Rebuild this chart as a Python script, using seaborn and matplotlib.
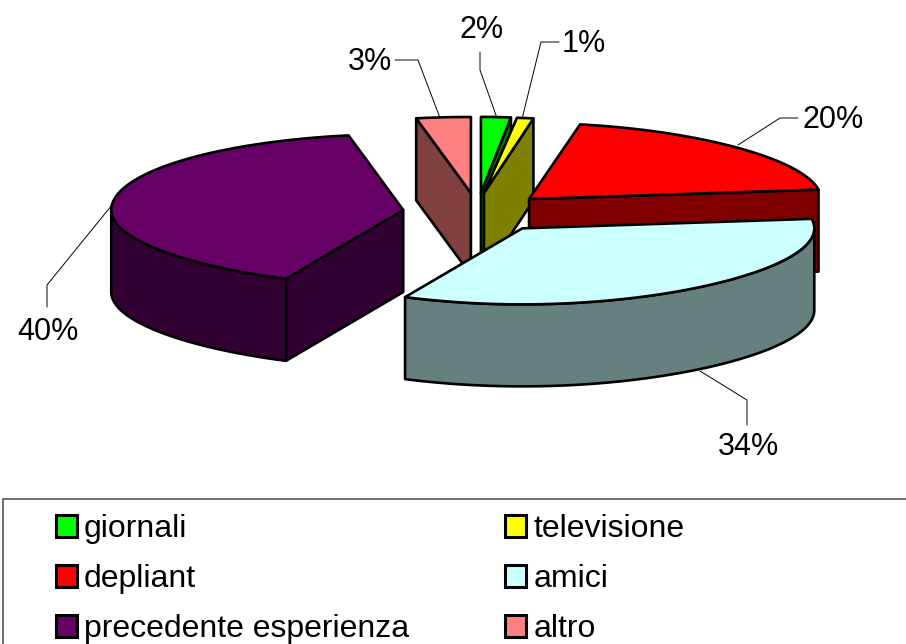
import numpy as np
from matplotlib import pyplot as plt
from matplotlib.patches import Patch, Rectangle
import seaborn as sns

categories = ["giornali", "televisione", "depliant", "amici", "precedente esperienza", "altro"]
values = [2, 1, 20, 34, 40, 3]
top_colors = ["#00FF00", "#FFFF00", "#FF0000", "#CCFFFF", "#660066", "#FF8080"]
side_colors = ["#008000", "#808000", "#800000", "#668080", "#330033", "#804040"]

# pie geometry, in pixels of the output picture
cx, cy = 478, 212.5
rx, ry = 292, 76
depth = 82
explode_x = [0.16, 0.13, 0.24, 0.258, 0.258, 0.258]
explode_y = [0.258, 0.258, 0.258, 0.258, 0.258, 0.258]
squeeze = [0.88, 0.97, 1, 1, 1, 1]
warp = 0.07

# label position and the leader line that goes with it
label_pos = [(482, 30), (584, 44), (833, 120), (748, 447), (48, 332), (370, 62)]
leaders = [
    [(480, 52), (480, 70), (497, 118)],
    [(559, 42), (541, 42), (522, 119)],
    [(798, 118), (780, 118), (738, 145)],
    [(747, 425), (747, 400), (700, 371)],
    [(47, 307), (47, 285), (112, 205)],
    [(395, 60), (418, 60), (440, 118)],
]


def draw_slice(ax, start, end, idx):
    mid = np.radians((start + end) / 2)
    ox = cx + explode_x[idx] * rx * np.sin(mid)
    oy = cy - explode_y[idx] * ry * np.cos(mid)
    sx = rx * squeeze[idx]

    def point(deg):
        deg = np.asarray(deg, dtype=float)
        a = np.radians(deg)
        # the chart's perspective pulls the right and front edges in a little
        f = 1 - np.where(deg > 270, 0, warp) * np.cos(a) ** 2
        return ox + sx * f * np.sin(a), oy - ry * np.cos(a)

    def quad(a):
        x, y = point(a)
        ax.fill([ox, x, x, ox], [oy, y, y + depth, oy + depth],
                fc=side_colors[idx], ec="black", lw=1.9, joinstyle="round")

    # Only faces turned to the viewer are visible
    if np.sin(np.radians(start)) < -1e-6:
        quad(start)
    if np.sin(np.radians(end)) > 1e-6:
        quad(end)

    # Outer wall, front half of the ellipse only
    lo, hi = max(start, 90), min(end, 270)
    if lo < hi:
        x, y = point(np.linspace(lo, hi, 80))
        ax.fill(np.r_[x, x[::-1]], np.r_[y, y[::-1] + depth],
                fc=side_colors[idx], ec="black", lw=1.9, joinstyle="round")

    x, y = point(np.linspace(start, end, 120))
    ax.fill(np.r_[ox, x], np.r_[oy, y], fc=top_colors[idx], ec="black", lw=1.9, joinstyle="round")


sns.set_theme(style="white")
plt.rcParams["font.family"] = ["Liberation Sans", "DejaVu Sans"]

fig = plt.figure(figsize=(9.06, 6.44), dpi=100)
ax = fig.add_axes([0, 0, 1, 1])
ax.set_xlim(0, 906)
ax.set_ylim(644, 0)
ax.axis("off")

edges = np.r_[0, np.cumsum(values)] / sum(values) * 360
# back to front
for i in [0, 1, 5, 2, 4, 3]:
    draw_slice(ax, edges[i], edges[i + 1], i)

for i, v in enumerate(values):
    ax.plot(*zip(*leaders[i]), color="black", lw=0.7)
    ax.text(*label_pos[i], f"{v}%", fontsize=22, color="black", ha="center", va="center")

ax.add_patch(Rectangle((3, 499), 960, 200, fc="white", ec="#555555", lw=1.2))
handles = [Patch(fc=c, ec="black", lw=2.2) for c in top_colors]
order = [0, 2, 4, 1, 3, 5]
ax.legend([handles[i] for i in order], [categories[i] for i in order], ncol=2,
          loc="upper left", bbox_to_anchor=(56 / 906, 1 - 514 / 644), fontsize=23,
          frameon=False, borderpad=0, borderaxespad=0, handlelength=0.66, handleheight=0.66,
          handletextpad=0.22, labelspacing=0.63, columnspacing=3.0, labelcolor="black")

plt.savefig("out.png", dpi=100)
plt.close()
